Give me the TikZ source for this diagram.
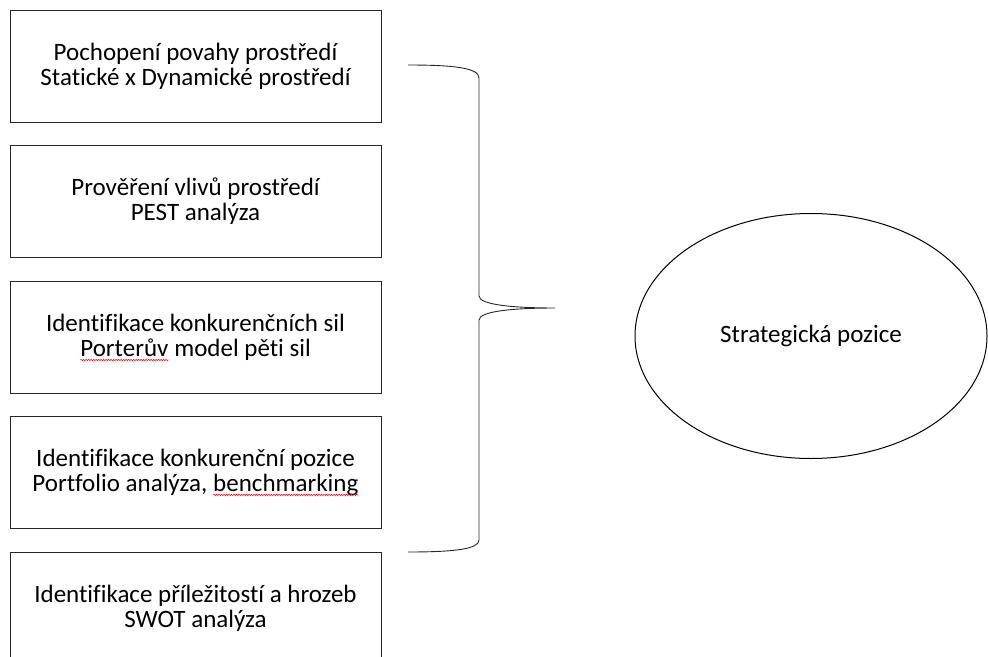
\documentclass[tikz,border=0pt]{standalone}
\usepackage{fontspec}
\setmainfont{Carlito}[Ligatures=NoCommon]
\usetikzlibrary{shapes.geometric,decorations.pathmorphing}

% red wavy spell-check underline
\newcommand{\spellmark}[1]{\tikz[baseline=0pt,x=1cm,y=1cm]{\node[draw=none,inner sep=0pt,outer sep=0pt,
    minimum width=0pt,minimum height=0pt,anchor=base west] (word) at (0,0) {#1};
  \draw[red,line width=0.5pt,decorate,decoration={snake,amplitude=0.7pt,segment length=2.5pt}]
    ([yshift=-3.5pt]word.base west) -- ([yshift=-3.5pt]word.base east);}}

\tikzset{
  stepbox/.style={draw=black!85,line width=0.9pt,minimum width=371pt,minimum height=112pt,
    align=center,font=\fontsize{25}{25}\selectfont,inner sep=0pt},
  posoval/.style={draw=black,line width=1pt,ellipse,minimum width=352pt,minimum height=245pt,
    inner sep=0pt,font=\fontsize{25}{25}\selectfont}
}

\begin{document}
\begin{tikzpicture}[x=1pt,y=-1pt]
\useasboundingbox (0,0) rectangle (988,656);
%\draw[step=50,gray,very thin] (0,0) grid (988,656); %background grid
\node[stepbox] (env)  at (195.5,66)    {Pochopení povahy prostředí\\Statické x Dynamické prostředí};
\node[stepbox] (pest) at (195.5,201)   {Prověření vlivů prostředí\\PEST analýza};
\node[stepbox] (forces) at (195.5,337.5) {Identifikace konkurenčních sil\\\spellmark{Porterův} model pěti sil};
\node[stepbox] (comp) at (195.5,472.5) {Identifikace konkurenční pozice\\Portfolio analýza, \spellmark{benchmarking}};
\node[stepbox] (swot) at (195.5,608)   {Identifikace příležitostí a hrozeb\\SWOT analýza};

\node[posoval] (pos) at (811,336) {Strategická pozice};

% brace
\coordinate (btop) at (408,65);
\coordinate (bbot) at (408,552);
\coordinate (tip)  at (555,308);
\draw[black!85,line width=0.9pt] (btop) .. controls (455,65) and (479,68) .. (479,78)
  -- (479,296) .. controls (479,305) and (515,308) .. (tip)
  .. controls (515,308) and (479,311) .. (479,320)
  -- (479,540) .. controls (479,549) and (455,552) .. (bbot);
\end{tikzpicture}
\end{document}
